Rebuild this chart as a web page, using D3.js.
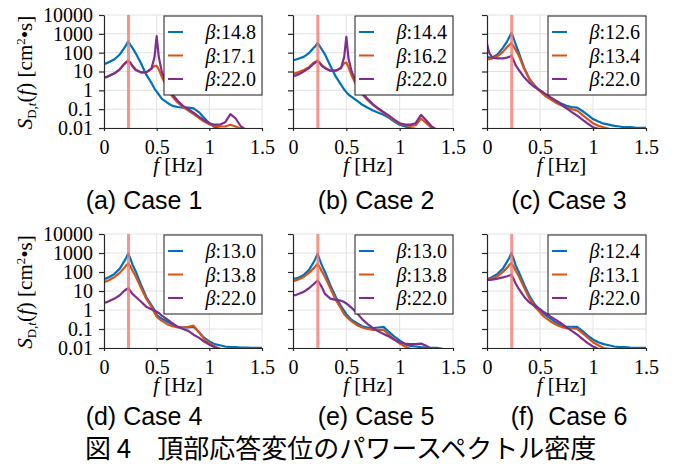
<!DOCTYPE html>
<html lang="ja">
<head>
<meta charset="UTF-8">
<script src="https://d3js.org/d3.v7.min.js"></script>
<style>
  body { margin: 0; background: #fff; }
  svg { display: block; }
  .serif { font-family: "Liberation Serif", "DejaVu Serif", serif; }
  .sans { font-family: "Liberation Sans", Arial, sans-serif; }
  .cjk { font-family: "Noto Sans CJK JP", sans-serif; }
</style>
</head>
<body>
<svg width="675" height="464"></svg>
<script>
// frequency grid [Hz] shared by all spectra
const freqs = [0, 0.02, 0.05, 0.1, 0.15, 0.19, 0.21, 0.23, 0.25, 0.27, 0.3, 0.35, 0.4, 0.45, 0.48, 0.5, 0.52, 0.55,
  0.6, 0.65, 0.7, 0.75, 0.8, 0.85, 0.9, 0.95, 1.0, 1.05, 1.1, 1.15, 1.2, 1.25, 1.3, 1.35, 1.4, 1.45, 1.5];

// PSD values [cm^2 s], one array per series (blue, orange, purple)
const case1 = [
  [25, 27, 32, 45, 80, 170, 250, 400, 260, 180, 95, 28, 7, 2.5, 1.2, 0.85, 0.6, 0.35, 0.22, 0.15, 0.13, 0.12, 0.12, 0.11, 0.07, 0.035, 0.018, 0.011, 0.009, null, null, null, null, null, null, null, null],
  [5, 5, 6, 8, 13, 25, 32, 38, 30, 20, 13, 9, 9, 14, 20, 20, 13, 5, 1.4, 0.45, 0.22, 0.13, 0.085, 0.055, 0.035, 0.022, 0.016, 0.013, 0.012, 0.012, 0.015, 0.012, 0.009, null, null, null, null],
  [5, 5, 6, 8, 13, 24, 30, 36, 29, 19, 12, 9, 9, 14, 60, 750, 60, 9, 2, 0.6, 0.28, 0.15, 0.1, 0.065, 0.04, 0.026, 0.018, 0.015, 0.015, 0.02, 0.055, 0.032, 0.012, 0.008, null, null, null]
];
const case2 = [
  [40, 42, 48, 60, 95, 170, 220, 320, 220, 150, 80, 20, 5.5, 2, 1.1, 0.8, 0.6, 0.45, 0.28, 0.17, 0.12, 0.085, 0.065, 0.05, 0.035, 0.022, 0.015, 0.012, 0.01, 0.009, null, null, null, null, null, null, null],
  [8, 8, 9, 12, 17, 28, 33, 38, 30, 22, 16, 11, 11, 16, 28, 30, 17, 6, 1.6, 0.6, 0.3, 0.17, 0.1, 0.065, 0.04, 0.025, 0.017, 0.014, 0.013, 0.014, 0.032, 0.018, 0.01, null, null, null, null],
  [6, 6, 7, 10, 15, 25, 30, 35, 28, 20, 15, 11, 11, 15, 60, 700, 50, 10, 2.2, 0.7, 0.35, 0.18, 0.11, 0.07, 0.045, 0.028, 0.018, 0.015, 0.015, 0.018, 0.05, 0.025, 0.012, 0.008, null, null, null]
];
const case3 = [
  [65, 55, 55, 80, 180, 400, 650, 1100, 600, 280, 100, 16, 4, 1.8, 1.2, 1.0, 0.8, 0.6, 0.4, 0.28, 0.2, 0.15, 0.13, 0.12, 0.08, 0.05, 0.03, 0.022, 0.017, 0.015, 0.013, 0.012, 0.011, 0.011, 0.0105, 0.0103, 0.0102],
  [45, 45, 50, 65, 110, 200, 250, 330, 220, 140, 70, 14, 4, 1.6, 1.1, 0.9, 0.7, 0.5, 0.33, 0.22, 0.16, 0.12, 0.1, 0.085, 0.05, 0.03, 0.018, 0.013, 0.011, 0.009, null, null, null, null, null, null, null],
  [300, 100, 55, 50, 50, 55, 60, 70, 40, 22, 12, 5, 2.5, 1.5, 1.2, 1.0, 0.85, 0.65, 0.42, 0.28, 0.18, 0.11, 0.07, 0.045, 0.028, 0.017, 0.011, 0.009, null, null, null, null, null, null, null, null, null]
];
const case4 = [
  [45, 45, 55, 80, 150, 350, 550, 950, 500, 250, 110, 22, 5, 1.8, 1.0, 0.55, 0.45, 0.35, 0.25, 0.17, 0.13, 0.12, 0.12, 0.13, 0.07, 0.035, 0.022, 0.016, 0.014, 0.012, 0.011, 0.011, 0.0105, 0.0105, 0.0102, 0.0101, 0.0101],
  [30, 32, 38, 55, 90, 160, 220, 280, 200, 120, 60, 15, 4, 1.5, 0.7, 0.45, 0.35, 0.27, 0.18, 0.14, 0.12, 0.12, 0.13, 0.15, 0.07, 0.03, 0.018, 0.012, 0.009, null, null, null, null, null, null, null, null],
  [2.5, 2.5, 3, 4, 6, 10, 12, 14, 10, 7, 5, 2.8, 1.5, 1.1, 0.9, 0.8, 0.7, 0.5, 0.32, 0.2, 0.13, 0.1, 0.08, 0.05, 0.035, 0.022, 0.015, 0.011, 0.009, null, null, null, null, null, null, null, null]
];
const case5 = [
  [45, 45, 50, 70, 130, 300, 500, 900, 450, 230, 100, 20, 5, 1.6, 0.9, 0.6, 0.45, 0.3, 0.2, 0.14, 0.12, 0.11, 0.12, 0.13, 0.07, 0.04, 0.025, 0.016, 0.013, 0.012, 0.011, 0.0105, 0.0102, 0.0101, 0.009, null, null],
  [35, 35, 40, 55, 90, 150, 200, 260, 180, 110, 55, 14, 3.5, 1.2, 0.6, 0.45, 0.35, 0.25, 0.16, 0.12, 0.1, 0.09, 0.09, 0.09, 0.05, 0.028, 0.017, 0.012, 0.009, null, null, null, null, null, null, null, null],
  [6, 6, 7, 9, 14, 22, 28, 35, 25, 16, 7, 4, 3.4, 3.1, 2.6, 2.2, 1.8, 1.3, 0.7, 0.32, 0.18, 0.11, 0.075, 0.055, 0.04, 0.027, 0.02, 0.017, 0.016, 0.016, 0.017, 0.013, 0.009, null, null, null, null]
];
const case6 = [
  [45, 45, 55, 80, 150, 350, 550, 1000, 500, 230, 100, 22, 5.5, 2, 1.3, 1.0, 0.8, 0.55, 0.35, 0.22, 0.16, 0.13, 0.13, 0.13, 0.08, 0.045, 0.028, 0.02, 0.016, 0.014, 0.012, 0.011, 0.011, 0.0105, 0.0102, 0.0101, 0.0101],
  [40, 40, 45, 60, 100, 170, 230, 300, 200, 120, 60, 15, 4, 1.5, 1.0, 0.75, 0.55, 0.4, 0.25, 0.17, 0.13, 0.11, 0.11, 0.1, 0.06, 0.035, 0.02, 0.014, 0.01, 0.009, null, null, null, null, null, null, null],
  [38, 38, 40, 45, 52, 60, 65, 70, 45, 25, 13, 5, 2.5, 1.6, 1.3, 1.1, 0.9, 0.7, 0.45, 0.3, 0.2, 0.12, 0.08, 0.05, 0.03, 0.018, 0.012, 0.009, null, null, null, null, null, null, null, null, null]
];

const betas = [
  ['14.8', '17.1', '22.0'], ['14.4', '16.2', '22.0'], ['12.6', '13.4', '22.0'],
  ['13.0', '13.8', '22.0'], ['13.0', '13.8', '22.0'], ['12.4', '13.1', '22.0']
];
const caseLabels = ['(a) Case 1', '(b) Case 2', '(c) Case 3', '(d) Case 4', '(e) Case 5', '(f)  Case 6'];
const yTicks = [0.01, 0.1, 1, 10, 100, 1000, 10000];
const yTickLabels = ['0.01', '0.1', '1', '10', '100', '1000', '10000'];
const xTicks = [0, 0.5, 1, 1.5];
const xTickLabels = ['0', '0.5', '1', '1.5'];
const markFreq = 0.233;
const caption = '図 4\u3000頂部応答変位のパワースペクトル密度';

const allCases = [case1, case2, case3, case4, case5, case6];
const colors = ['#0072bd', '#d95319', '#7e2f8e'];

const svg = d3.select('svg');
const colX = [[104, 262], [293, 453], [487, 646]];
const rowY = [[15, 128], [234, 348]];
const labelX = [144, 376, 569];

allCases.forEach((series, i) => {
  const col = i % 3, row = Math.floor(i / 3);
  const [x0, x1] = colX[col], [y0, y1] = rowY[row];
  const x = d3.scaleLinear().domain([0, 1.5]).range([x0, x1]);
  const y = d3.scaleLog().domain([0.01, 10000]).range([y1, y0]);
  const g = svg.append('g');

  // grid
  g.selectAll('.hg').data(yTicks).enter().append('line')
    .attr('x1', x0).attr('x2', x1).attr('y1', d => y(d)).attr('y2', d => y(d))
    .attr('stroke', '#e2e2e2').attr('stroke-width', 1);
  g.selectAll('.vg').data(xTicks.slice(1)).enter().append('line')
    .attr('x1', d => x(d)).attr('x2', d => x(d)).attr('y1', y0).attr('y2', y1)
    .attr('stroke', '#e2e2e2').attr('stroke-width', 1);

  // spectra
  const clipId = 'clip' + i;
  svg.append('clipPath').attr('id', clipId).append('rect')
    .attr('x', x0).attr('y', y0 - 1).attr('width', x1 - x0).attr('height', y1 - y0 + 1);
  const line = d3.line()
    .defined(d => d[1] != null)
    .x(d => x(d[0])).y(d => y(Math.max(d[1], 0.005)));
  series.forEach((vals, k) => {
    g.append('path')
      .datum(freqs.map((f, j) => [f, vals[j]]))
      .attr('clip-path', `url(#${clipId})`)
      .attr('fill', 'none').attr('stroke', colors[k]).attr('stroke-width', 2.2)
      .attr('stroke-linejoin', 'round')
      .attr('d', line);
  });

  // natural frequency marker
  g.append('line')
    .attr('x1', x(markFreq)).attr('x2', x(markFreq)).attr('y1', y0).attr('y2', y1)
    .attr('stroke', '#f47a72').attr('stroke-width', 3).attr('opacity', 0.8);

  // axes
  const ay = g.append('g').attr('class', 'serif').attr('transform', `translate(${x0},0)`)
    .call(d3.axisLeft(y).tickValues(yTicks).tickSize(5).tickSizeOuter(0).tickPadding(6)
      .tickFormat((d, j) => col === 0 ? yTickLabels[j] : ''));
  const ax = g.append('g').attr('class', 'serif').attr('transform', `translate(0,${y1})`)
    .call(d3.axisBottom(x).tickValues(xTicks).tickSize(3).tickSizeOuter(0).tickPadding(9)
      .tickFormat((d, j) => xTickLabels[j]));
  [ay, ax].forEach(a => {
    a.selectAll('text').attr('font-size', 20).attr('fill', '#000').attr('font-family', null);
    a.selectAll('path, line').attr('stroke', '#262626').attr('stroke-width', 1.2);
  });

  // x title
  const xt = g.append('text').attr('class', 'serif').attr('font-size', 21)
    .attr('x', (x0 + x1) / 2 - 5).attr('y', y1 + 44).attr('text-anchor', 'middle');
  xt.append('tspan').attr('font-style', 'italic').text('f');
  xt.append('tspan').text(' [Hz]');

  // y title
  if (col === 0) {
    const yt = g.append('text').attr('class', 'serif').attr('font-size', 21)
      .attr('text-anchor', 'middle')
      .attr('transform', `translate(32,${(y0 + y1) / 2 + 1}) rotate(-90)`);
    yt.append('tspan').attr('font-style', 'italic').text('S');
    yt.append('tspan').attr('font-size', 13).attr('dy', 4).text('D,');
    yt.append('tspan').attr('font-size', 13).attr('font-style', 'italic').text('t');
    yt.append('tspan').attr('dy', -4).text('(');
    yt.append('tspan').attr('font-style', 'italic').text('f');
    yt.append('tspan').text(') [cm');
    yt.append('tspan').attr('font-size', 13).attr('dy', -7).text('2');
    yt.append('tspan').attr('dy', 7).text('\u2022s]');
  }

  // legend
  const lg = g.append('g').attr('transform', `translate(${x1 - 98},${y0 + 1})`);
  lg.append('rect').attr('width', 98).attr('height', 79)
    .attr('fill', '#fff').attr('stroke', '#1a1a1a').attr('stroke-width', 1);
  betas[i].forEach((b, k) => {
    const ly = 16 + k * 23.5;
    lg.append('line').attr('x1', 4).attr('x2', 19).attr('y1', ly).attr('y2', ly)
      .attr('stroke', colors[k]).attr('stroke-width', 2);
    const t = lg.append('text').attr('class', 'serif').attr('font-size', 20)
      .attr('x', 92).attr('y', ly + 7).attr('text-anchor', 'end');
    t.append('tspan').attr('font-style', 'italic').text('\u03b2');
    t.append('tspan').text(':' + b);
  });

  // case label
  svg.append('text').attr('class', 'sans').attr('font-size', 25)
    .attr('x', labelX[col]).attr('y', row === 0 ? 209 : 425)
    .attr('text-anchor', 'middle').style('white-space', 'pre')
    .text(caseLabels[i]);
});

svg.append('text').attr('class', 'cjk').attr('font-size', 26)
  .attr('x', 85).attr('y', 458).style('white-space', 'pre')
  .text(caption);
</script>
</body>
</html>
